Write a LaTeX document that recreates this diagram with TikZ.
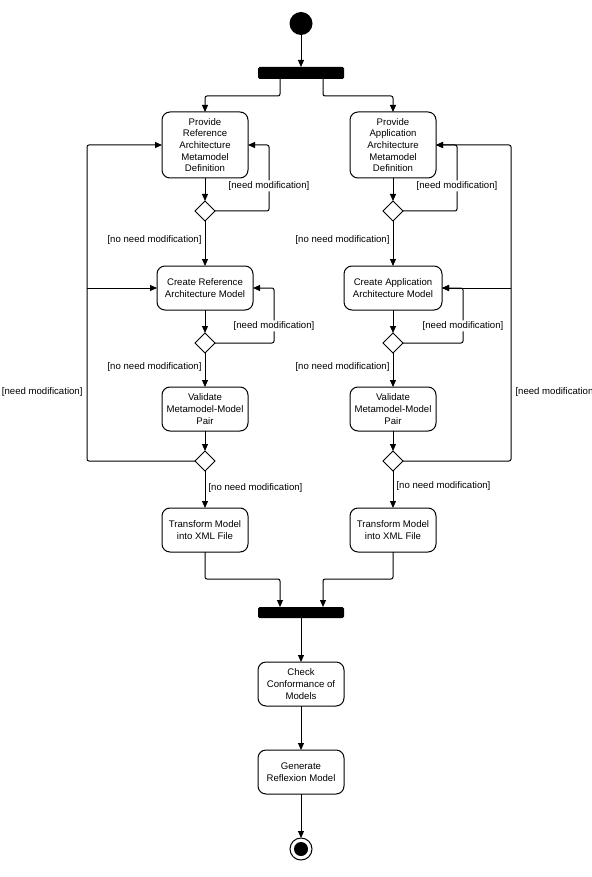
\documentclass[tikz,border=0pt]{standalone}
\usepackage{fontspec}
\setmainfont{Liberation Sans}
\usetikzlibrary{
	shapes.geometric,
	arrows.meta,
	positioning,
	calc
}

\begin{document}
\begin{tikzpicture}[
				action/.style={
					rectangle, draw, rounded corners=8pt, line width=1pt,
					minimum width=86pt, minimum height=44pt, inner sep=2pt, outer sep=0pt,
					align=center, font=\fontsize{9.6}{11.7}\selectfont
				},
				decision/.style={
					diamond, draw, line width=1pt,
					minimum width=20pt, minimum height=20pt, inner sep=0pt, outer sep=0pt
				},
				bar/.style={
					rectangle, fill=black, rounded corners=1.5pt,
					minimum width=86pt, minimum height=12pt, inner sep=0pt, outer sep=0pt
				},
				guard/.style={
					fill=white, inner sep=1pt, font=\fontsize{9.6}{11.7}\selectfont
				},
				arrow/.style={-{Triangle[length=7pt,width=6pt]}, line width=1pt, rounded corners=2pt, black}
				]
				
				\useasboundingbox (0,0) rectangle (591pt,-877pt);
				
				% initial node
				\node[circle, fill=black, minimum size=23pt, inner sep=0pt, outer sep=0pt] (start) at (301pt,-23.5pt) {};
				
				% fork
				\node[bar, below=32pt of start] (fork) {};
				
				% reference branch
				\node[action, minimum height=66pt, below=33pt of fork, xshift=-96pt] (provRef) {Provide\\Reference\\Architecture\\Metamodel\\Definition};
				\node[decision, below=23pt of provRef] (decRef1) {};
				\node[action, minimum width=96pt, below=45pt of decRef1] (createRef) {Create Reference\\Architecture Model};
				\node[decision, below=23pt of createRef] (decRef2) {};
				\node[action, below=34pt of decRef2] (validRef) {Validate\\Metamodel-Model\\Pair};
				\node[decision, below=20pt of validRef] (decRef3) {};
				\node[action, below=37pt of decRef3] (transRef) {Transform Model\\into XML File};
				
				% application branch
				\node[action, minimum height=66pt, below=33pt of fork, xshift=92pt] (provApp) {Provide\\Application\\Architecture\\Metamodel\\Definition};
				\node[decision, below=23pt of provApp] (decApp1) {};
				\node[action, minimum width=98pt, below=45pt of decApp1] (createApp) {Create Application\\Architecture Model};
				\node[decision, below=23pt of createApp] (decApp2) {};
				\node[action, below=34pt of decApp2] (validApp) {Validate\\Metamodel-Model\\Pair};
				\node[decision, below=20pt of validApp] (decApp3) {};
				\node[action, below=37pt of decApp3] (transApp) {Transform Model\\into XML File};
				
				% join
				\node[bar, minimum height=11pt, below=55pt of transRef, xshift=96pt] (join) {};
				
				% check and reflexion model
				\node[action, below=44pt of join] (check) {Check\\Conformance of\\Models};
				\node[action, below=44pt of check] (reflexion) {Generate\\Reflexion Model};
				
				% final node
				\node[circle, draw, line width=1pt, minimum size=22pt, inner sep=0pt, outer sep=0pt, below=44pt of reflexion,
					path picture={\fill (path picture bounding box.center) circle (7pt);}] (final) {};
				
				% start and fork
				\draw[arrow] (start) -- (fork);
				\draw[arrow] ([xshift=-21pt]fork.south) -- ++(0,-17pt) -| (provRef.north);
				\draw[arrow] ([xshift=22pt]fork.south) -- ++(0,-17pt) -| (provApp.north);
				
				% reference branch arrows
				\draw[arrow] (provRef) -- (decRef1);
				\draw[arrow] (decRef1.east) -- ++(54pt,0) |- node[guard, pos=0.19] {[need modification]} (provRef.east);
				\draw[arrow] (decRef1) -- node[guard, left=2pt, pos=0.42] {[no need modification]} (createRef);
				\draw[arrow] (createRef) -- (decRef2);
				\draw[arrow] (decRef2.east) -- ++(59pt,0) |- node[guard, pos=0.155] {[need modification]} (createRef.east);
				\draw[arrow] (decRef2) -- node[guard, left=2pt, pos=0.41] {[no need modification]} (validRef);
				\draw[arrow] (validRef) -- (decRef3);
				\draw[arrow] (decRef3.west) -- ++(-108pt,0) coordinate (loopRef) |- node[guard, left=3pt, pos=0.109] {[need modification]} (provRef.west);
				\draw[arrow] (loopRef |- createRef.west) -- (createRef.west);
				\draw[arrow] (decRef3) -- node[guard, right=2pt, pos=0.46] {[no need modification]} (transRef);
				
				% application branch arrows
				\draw[arrow] (provApp) -- (decApp1);
				\draw[arrow] (decApp1.east) -- ++(54pt,0) |- node[guard, pos=0.19] {[need modification]} (provApp.east);
				\draw[arrow] (decApp1) -- node[guard, left=2pt, pos=0.42] {[no need modification]} (createApp);
				\draw[arrow] (createApp) -- (decApp2);
				\draw[arrow] (decApp2.east) -- ++(60pt,0) |- node[guard, pos=0.155] {[need modification]} (createApp.east);
				\draw[arrow] (decApp2) -- node[guard, left=2pt, pos=0.41] {[no need modification]} (validApp);
				\draw[arrow] (validApp) -- (decApp3);
				\draw[arrow] (decApp3.east) -- ++(108pt,0) coordinate (loopApp) |- node[guard, right=3pt, pos=0.109] {[need modification]} (provApp.east);
				\draw[arrow] (loopApp |- createApp.east) -- (createApp.east);
				\draw[arrow] (decApp3) -- node[guard, right=2pt, pos=0.40] {[no need modification]} (transApp);
				
				% join and final steps
				\draw[arrow] (transRef.south) -- ++(0,-27pt) -| ([xshift=-21pt]join.north);
				\draw[arrow] (transApp.south) -- ++(0,-27pt) -| ([xshift=22pt]join.north);
				\draw[arrow] (join) -- (check);
				\draw[arrow] (check) -- (reflexion);
				\draw[arrow] (reflexion) -- (final);
			\end{tikzpicture}
\end{document}
